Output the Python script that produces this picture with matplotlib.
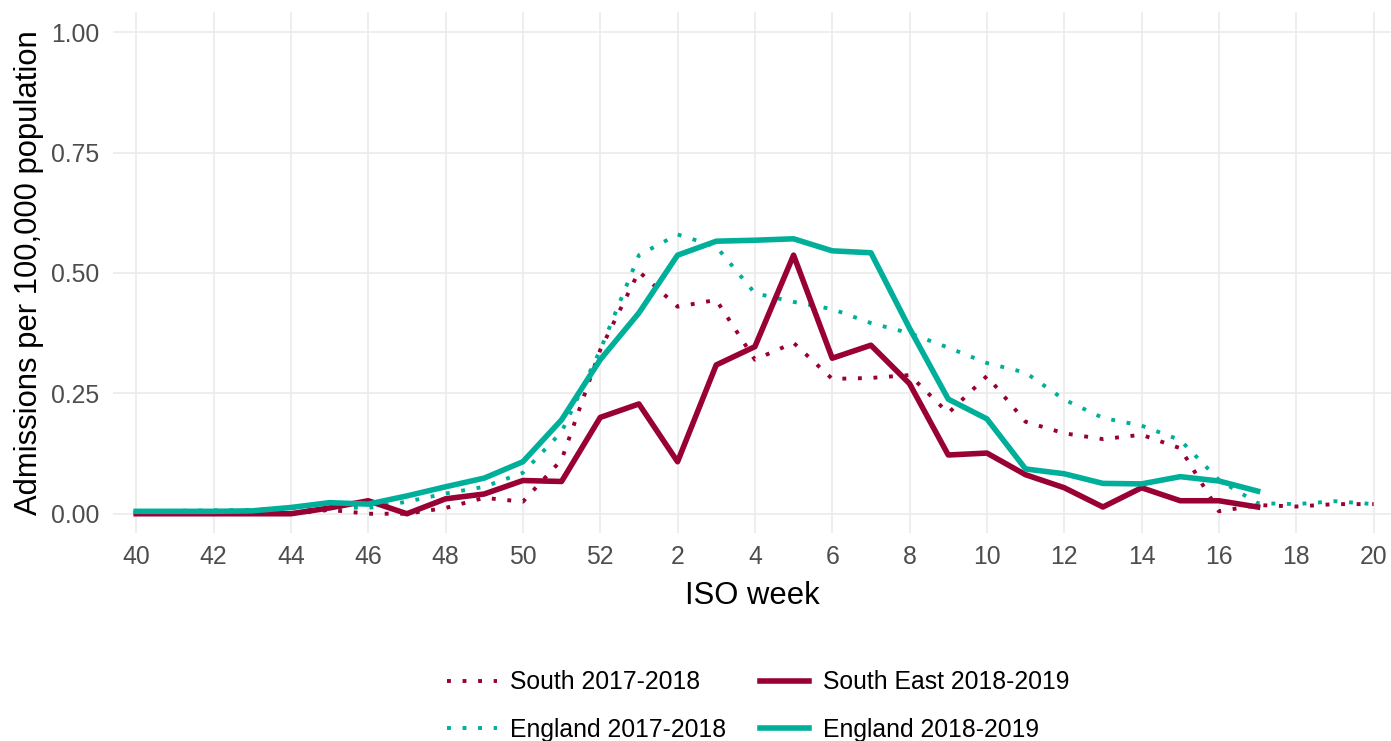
import matplotlib
matplotlib.use("Agg")
import matplotlib.pyplot as plt

plt.rcParams['font.family'] = ['Liberation Sans', 'DejaVu Sans']

# ISO weeks of the season, 40 -> 52 then 1 -> 20
weeks = list(range(40, 53)) + list(range(1, 21))

south_1718 = [0.0, 0.0, 0.0, 0.0, 0.0, 0.008, 0.0, 0.0, 0.012, 0.033, 0.025, 0.112, 0.34,
              0.503, 0.43, 0.444, 0.32, 0.355, 0.28, 0.282, 0.288, 0.209, 0.286, 0.191,
              0.167, 0.155, 0.164, 0.136, 0.005, 0.018, 0.015, 0.02, 0.02]
england_1718 = [0.005, 0.006, 0.007, 0.008, 0.012, 0.014, 0.012, 0.025, 0.042, 0.056, 0.085,
                0.17, 0.34, 0.537, 0.58, 0.555, 0.458, 0.44, 0.425, 0.396, 0.375, 0.345,
                0.313, 0.293, 0.237, 0.199, 0.183, 0.153, 0.07, 0.022, 0.02, 0.026, 0.02]
southeast_1819 = [0.0, 0.0, 0.0, 0.0, 0.0, 0.012, 0.027, 0.0, 0.031, 0.041, 0.069, 0.067,
                  0.20, 0.228, 0.108, 0.309, 0.347, 0.537, 0.323, 0.35, 0.27, 0.122, 0.126,
                  0.081, 0.054, 0.014, 0.054, 0.027, 0.027, 0.014]
england_1819 = [0.005, 0.005, 0.005, 0.006, 0.013, 0.023, 0.02, 0.037, 0.056, 0.074, 0.108,
                0.195, 0.32, 0.417, 0.537, 0.566, 0.568, 0.571, 0.546, 0.542, 0.385, 0.238,
                0.197, 0.093, 0.083, 0.063, 0.062, 0.077, 0.068, 0.047]

tick_weeks = [40, 42, 44, 46, 48, 50, 52, 2, 4, 6, 8, 10, 12, 14, 16, 18, 20]
y_ticks = [0.0, 0.25, 0.5, 0.75, 1.0]

red = '#990033'
teal = '#00AF99'

pos = list(range(len(weeks)))

fig = plt.figure(figsize=(13.91, 7.41), dpi=100)
ax = fig.add_axes([113/1391, 1-533/741, (1391-113)/1391, (533-12)/741])

dots = (0, (1, 3))
ax.plot(pos[:len(south_1718)], south_1718, color=red, lw=2.8, linestyle=dots,
        label='South 2017-2018')
ax.plot(pos[:len(england_1718)], england_1718, color=teal, lw=2.8, linestyle=dots,
        label='England 2017-2018')
ax.plot(pos[:len(southeast_1819)], southeast_1819, color=red, lw=4,
        label='South East 2018-2019')
ax.plot(pos[:len(england_1819)], england_1819, color=teal, lw=4,
        label='England 2018-2019')

ax.set_xlim(-0.6, 32.45)
ax.set_ylim(-0.04, 1.042)
ax.set_xticks([weeks.index(w) for w in tick_weeks])
ax.set_xticklabels([str(w) for w in tick_weeks])
ax.set_yticks(y_ticks)
ax.set_yticklabels(['%.2f' % v for v in y_ticks])

ax.grid(True, color='#EBEBEB', lw=1.2)
ax.set_axisbelow(True)
for s in ax.spines.values():
    s.set_visible(False)
ax.tick_params(length=0, labelsize=17.8, labelcolor='#4D4D4D')
ax.tick_params(axis='x', pad=9)
ax.tick_params(axis='y', pad=10)

ax.set_xlabel('ISO week', fontsize=22.3, labelpad=8)
ax.set_ylabel('Admissions per 100,000 population', fontsize=22.3, labelpad=5)

ax.legend(loc='center', bbox_to_anchor=(0.545, 0.047), bbox_transform=fig.transFigure,
          ncol=2, frameon=False, fontsize=17.8, handlelength=2.0, handletextpad=0.55,
          columnspacing=1.35, labelspacing=0.95)

fig.savefig('out.png', dpi=100)
